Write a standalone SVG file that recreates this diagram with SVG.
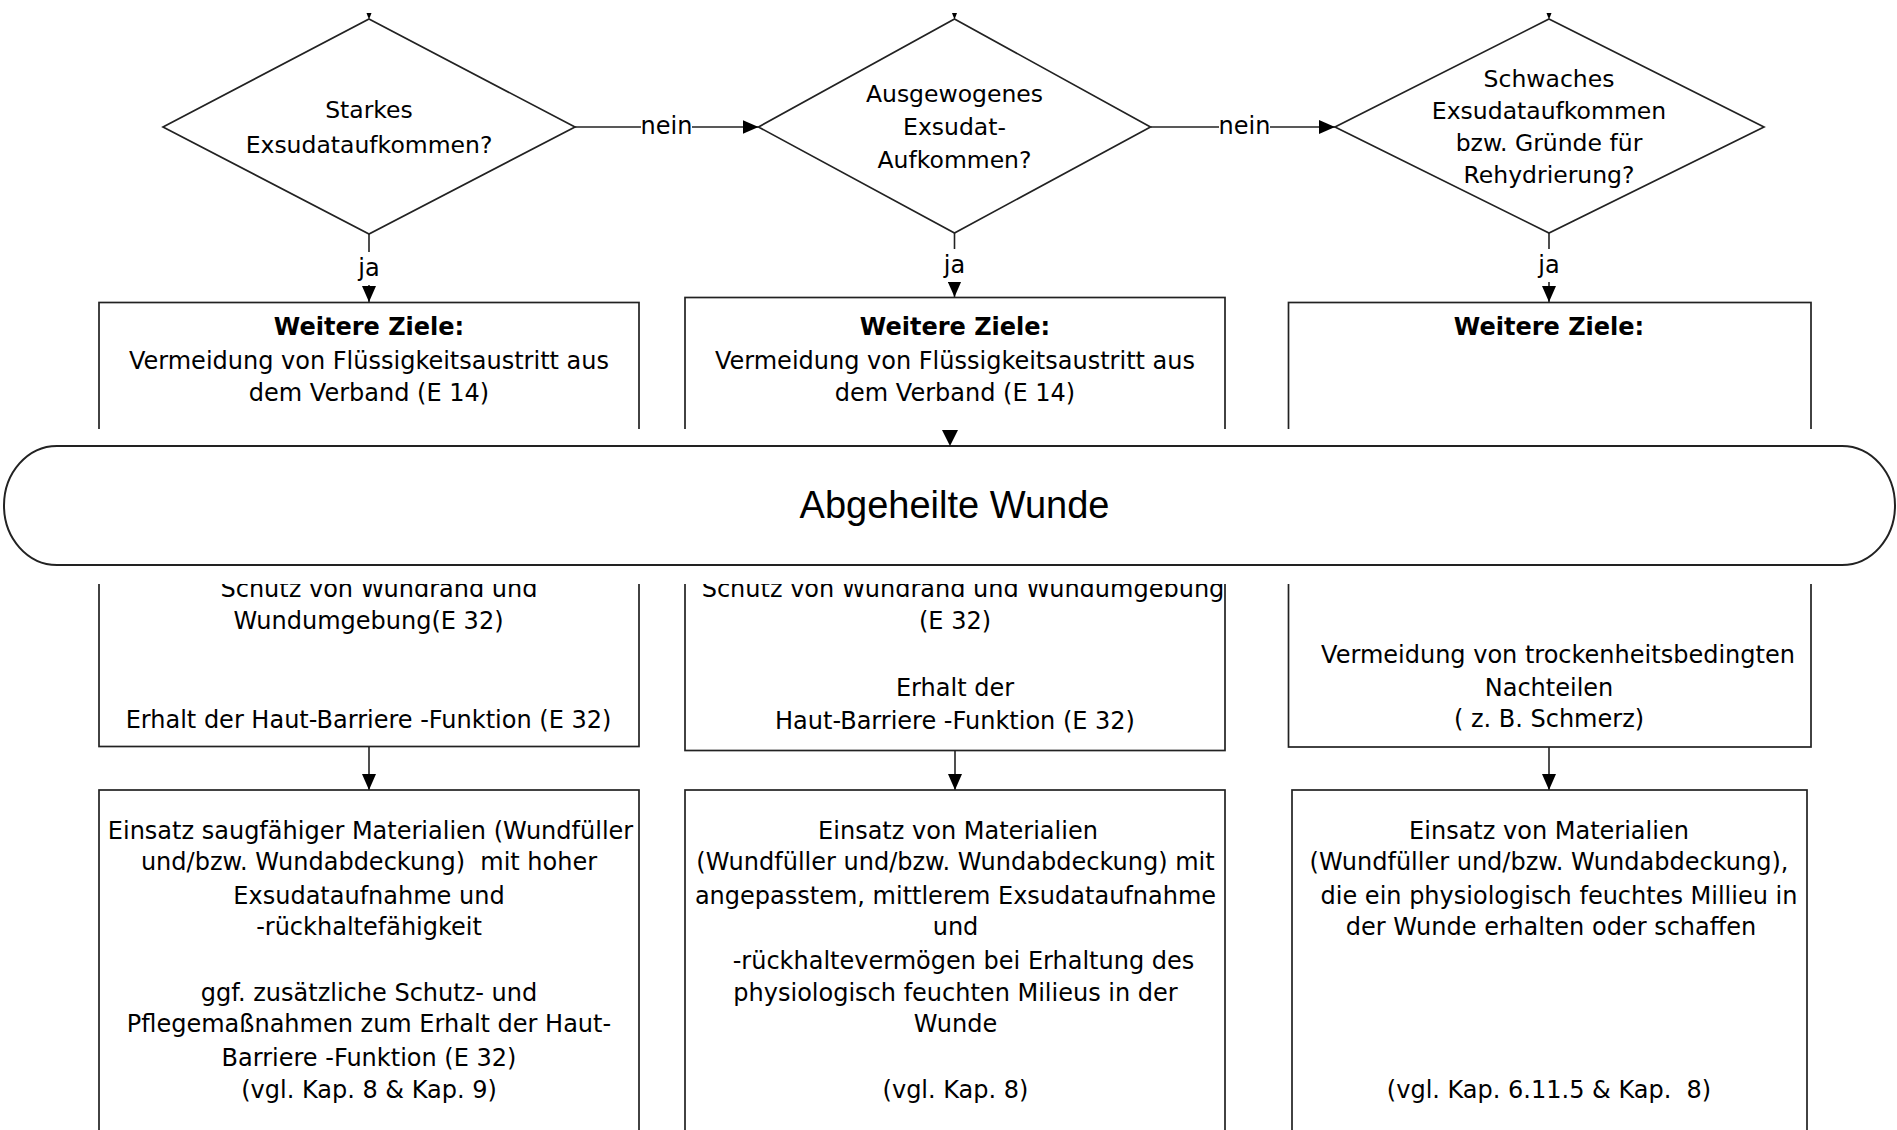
<svg xmlns="http://www.w3.org/2000/svg" width="1897" height="1130" viewBox="0 0 1897 1130">
<style>
.shape{fill:#fff;stroke:#222;stroke-width:1.7}
.term{fill:#fff;stroke:#222;stroke-width:2}
.line{fill:none;stroke:#222;stroke-width:1.6}
.head{fill:#000;stroke:none}
.t{font-family:"DejaVu Sans",Verdana,sans-serif;font-size:24px;fill:#000;text-anchor:middle;white-space:pre}
.d{font-size:23.5px}
.b{font-weight:bold}
.big{font-family:"Liberation Sans",Arial,sans-serif;font-size:38px;fill:#000;text-anchor:middle}
.lblbg{fill:#fff;stroke:none}
</style>
<defs>
<marker id="ah" viewBox="0 0 16 14" refX="16" refY="7" markerWidth="16" markerHeight="14" markerUnits="userSpaceOnUse" orient="auto">
<path d="M0,0 L16,7 L0,14 z" fill="#000"/>
</marker>
</defs>
<rect width="1897" height="1130" fill="#fff"/>

<g id="connectors">
<polygon class="head" points="366.5,13 371.5,13 369,19.5"/>
<polygon class="head" points="952,13 957,13 954.5,19.5"/>
<polygon class="head" points="1546.5,13 1551.5,13 1549,19.5"/>
<line class="line" x1="369" y1="234" x2="369" y2="302" marker-end="url(#ah)"/>
<rect class="lblbg" x="356" y="252" width="26" height="33"/>
<text class="t" x="369" y="276">ja</text>
<line class="line" x1="954.5" y1="233" x2="954.5" y2="297" marker-end="url(#ah)"/>
<rect class="lblbg" x="941" y="249" width="26" height="33"/>
<text class="t" x="954.5" y="273">ja</text>
<line class="line" x1="1549" y1="233" x2="1549" y2="302" marker-end="url(#ah)"/>
<rect class="lblbg" x="1536" y="249" width="26" height="33"/>
<text class="t" x="1549" y="273">ja</text>
<line class="line" x1="575" y1="127" x2="758.5" y2="127" marker-end="url(#ah)"/>
<rect class="lblbg" x="641" y="114" width="51" height="26"/>
<text class="t" x="666.5" y="134">nein</text>
<line class="line" x1="1150.5" y1="127" x2="1335" y2="127" marker-end="url(#ah)"/>
<rect class="lblbg" x="1219" y="114" width="51" height="26"/>
<text class="t" x="1244.5" y="134">nein</text>
<line class="line" x1="369" y1="746" x2="369" y2="790" marker-end="url(#ah)"/>
<line class="line" x1="955" y1="751" x2="955" y2="790" marker-end="url(#ah)"/>
<line class="line" x1="1549" y1="747" x2="1549" y2="790" marker-end="url(#ah)"/>
</g>

<g id="d1">
<polygon class="shape" points="369,19 575,127 369,234 163,127"/>
<text class="t d" x="369" y="118">Starkes</text>
<text class="t d" x="369" y="153">Exsudataufkommen?</text>
</g>
<g id="d2">
<polygon class="shape" points="954.5,19 1150.5,127 954.5,233 758.5,127"/>
<text class="t d" x="954.5" y="101.5">Ausgewogenes</text>
<text class="t d" x="954.5" y="135">Exsudat-</text>
<text class="t d" x="954.5" y="168">Aufkommen?</text>
</g>
<g id="d3">
<polygon class="shape" points="1549,19 1764,127 1549,233 1335,127"/>
<text class="t d" x="1549" y="87">Schwaches</text>
<text class="t d" x="1549" y="119">Exsudataufkommen</text>
<text class="t d" x="1549" y="151">bzw. Gründe für</text>
<text class="t d" x="1549" y="183">Rehydrierung?</text>
</g>

<g id="z1">
<rect class="shape" x="99" y="302.5" width="540" height="444"/>
<text class="t b" x="369" y="335">Weitere Ziele:</text>
<text class="t" x="369" y="369">Vermeidung von Flüssigkeitsaustritt aus</text>
<text class="t" x="369" y="400.5">dem Verband (E 14)</text>
<text class="t" x="379" y="597">Schutz von Wundrand und</text>
<text class="t" x="368.5" y="629">Wundumgebung(E 32)</text>
<text class="t" x="368.5" y="728">Erhalt der Haut-Barriere -Funktion (E 32)</text>
</g>
<g id="z2">
<rect class="shape" x="685" y="297.5" width="540" height="453"/>
<text class="t b" x="955" y="335">Weitere Ziele:</text>
<text class="t" x="955" y="369">Vermeidung von Flüssigkeitsaustritt aus</text>
<text class="t" x="955" y="400.5">dem Verband (E 14)</text>
<text class="t" x="963" y="597">Schutz von Wundrand und Wundumgebung</text>
<text class="t" x="955" y="629">(E 32)</text>
<text class="t" x="955" y="696">Erhalt der</text>
<text class="t" x="955" y="729">Haut-Barriere -Funktion (E 32)</text>
</g>
<g id="z3">
<rect class="shape" x="1288.5" y="302.5" width="522.5" height="444.5"/>
<text class="t b" x="1549" y="335">Weitere Ziele:</text>
<text class="t" x="1558" y="663">Vermeidung von trockenheitsbedingten</text>
<text class="t" x="1549" y="696">Nachteilen</text>
<text class="t" x="1549" y="727">( z. B. Schmerz)</text>
</g>

<g id="m1">
<rect class="shape" x="99" y="790" width="540" height="400"/>
<text class="t" x="370.5" y="838.5">Einsatz saugfähiger Materialien (Wundfüller</text>
<text class="t" x="369" y="870">und/bzw. Wundabdeckung)  mit hoher</text>
<text class="t" x="369" y="904">Exsudataufnahme und</text>
<text class="t" x="369" y="935">-rückhaltefähigkeit</text>
<text class="t" x="369" y="1000.5">ggf. zusätzliche Schutz- und</text>
<text class="t" x="369" y="1032">Pflegemaßnahmen zum Erhalt der Haut-</text>
<text class="t" x="369" y="1066">Barriere -Funktion (E 32)</text>
<text class="t" x="369" y="1097.5">(vgl. Kap. 8 &amp; Kap. 9)</text>
</g>
<g id="m2">
<rect class="shape" x="685" y="790" width="540" height="400"/>
<text class="t" x="958" y="838.5">Einsatz von Materialien</text>
<text class="t" x="955.5" y="870">(Wundfüller und/bzw. Wundabdeckung) mit</text>
<text class="t" x="955.5" y="904">angepasstem, mittlerem Exsudataufnahme</text>
<text class="t" x="955.5" y="935">und</text>
<text class="t" x="963.5" y="969">-rückhaltevermögen bei Erhaltung des</text>
<text class="t" x="955.5" y="1000.5">physiologisch feuchten Milieus in der</text>
<text class="t" x="955.5" y="1032">Wunde</text>
<text class="t" x="955.5" y="1097.5">(vgl. Kap. 8)</text>
</g>
<g id="m3">
<rect class="shape" x="1292" y="790" width="515" height="400"/>
<text class="t" x="1549" y="838.5">Einsatz von Materialien</text>
<text class="t" x="1549" y="870">(Wundfüller und/bzw. Wundabdeckung),</text>
<text class="t" x="1559" y="904">die ein physiologisch feuchtes Millieu in</text>
<text class="t" x="1551" y="935">der Wunde erhalten oder schaffen</text>
<text class="t" x="1549" y="1097.5">(vgl. Kap. 6.11.5 &amp; Kap.  8)</text>
</g>

<rect x="0" y="429" width="1897" height="155" fill="#fff"/>
<g id="end">
<rect class="term" x="4" y="446" width="1891" height="119" rx="53" ry="59.5"/>
<text class="big" x="954.5" y="518">Abgeheilte Wunde</text>
</g>
<g id="connectors-end">
<polygon class="head" points="942,430 958,430 950,446"/>
</g>
</svg>
